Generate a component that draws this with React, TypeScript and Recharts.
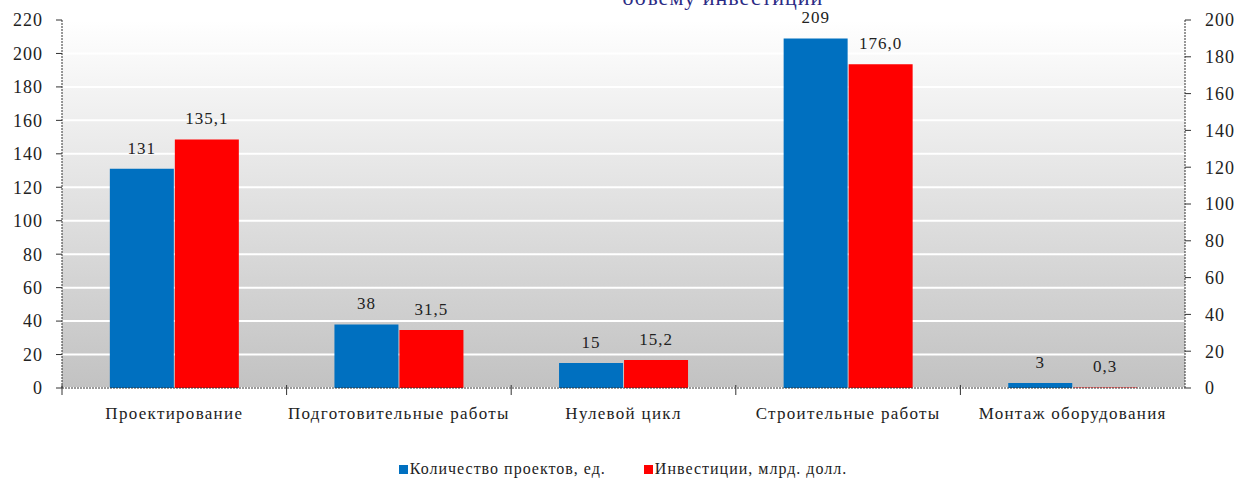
import React from 'react';
import { BarChart, Bar, XAxis, YAxis, CartesianGrid, Legend, LabelList } from 'recharts';

const categories = ['Проектирование', 'Подготовительные работы', 'Нулевой цикл', 'Строительные работы', 'Монтаж оборудования'];
const projects = [131, 38, 15, 209, 3];
const investments = [135.1, 31.5, 15.2, 176.0, 0.3];
const leftTicks = [0, 20, 40, 60, 80, 100, 120, 140, 160, 180, 200, 220];
const rightTicks = [0, 20, 40, 60, 80, 100, 120, 140, 160, 180, 200];
const seriesNames = ['Количество проектов, ед.', 'Инвестиции, млрд. долл.'];
const titleText = 'объему инвестиций';

const data = categories.map((c, i) => ({ name: c, projects: projects[i], investments: investments[i] }));

const W = 1246;
const H = 483;
const LEFT_W = 62;
const RIGHT_W = 61;
const BAND = (W - LEFT_W - RIGHT_W) / categories.length;
const FONT = '"Liberation Serif", "DejaVu Serif", serif';
const TEXT = '#222';

const CatTick = (props: any) => {
  const { x, y, payload } = props;
  return (
    <g>
      <line x1={x - BAND / 2} y1={y - 3} x2={x - BAND / 2} y2={y + 7} stroke="#333" strokeWidth={1} />
      <text x={x} y={y + 31} textAnchor="middle" fontFamily={FONT} fontSize={17} letterSpacing={1.3} fill={TEXT}>
        {payload.value}
      </text>
    </g>
  );
};

const LegendContent = () => (
  <div style={{ display: 'flex', justifyContent: 'center', fontFamily: FONT, fontSize: 16, letterSpacing: 1, color: TEXT, paddingTop: 3, paddingLeft: 0 }}>
    {seriesNames.map((n, i) => (
      <div key={n} style={{ display: 'flex', alignItems: 'center', marginRight: i === 0 ? 38 : 0 }}>
        <span style={{ display: 'inline-block', width: 9, height: 9, background: i === 0 ? '#0070C0' : '#FF0000', marginRight: 2 }} />
        <span>{n}</span>
      </div>
    ))}
  </div>
);

export default function App() {
  return (
    <div style={{ position: 'absolute', left: 0, top: 0, width: W, height: H, background: '#fff' }}>
      <BarChart
        width={W}
        height={H}
        data={data}
        margin={{ top: 20, right: 0, left: 0, bottom: 0 }}
        barCategoryGap="21.3%"
        barGap={1}
      >
        <defs>
          <linearGradient id="bg" x1="0" y1="0" x2="0" y2="1">
            <stop offset="0%" stopColor="#FFFFFF" />
            <stop offset="100%" stopColor="#C2C2C2" />
          </linearGradient>
        </defs>
        <text x={723} y={5} textAnchor="middle" fontFamily={FONT} fontSize={22} letterSpacing={1} fill="#2B2B85">
          {titleText}
        </text>
        <CartesianGrid vertical={false} fill="url(#bg)" stroke="#FFFFFF" strokeWidth={2} yAxisId="left" />
        <XAxis
          dataKey="name"
          tickLine={false}
          tickSize={0}
          tickMargin={0}
          height={69}
          interval={0}
          axisLine={{ stroke: '#333', strokeDasharray: '2 1' }}
          tick={<CatTick />}
        />
        <YAxis
          yAxisId="left"
          orientation="left"
          width={LEFT_W}
          domain={[0, 220]}
          ticks={leftTicks}
          interval={0}
          tickSize={6}
          tickMargin={13}
          axisLine={{ stroke: '#333', strokeDasharray: '2 1' }}
          tickLine={{ stroke: '#333' }}
          tick={{ fontFamily: FONT, fontSize: 18, letterSpacing: 1, fill: TEXT }}
        />
        <YAxis
          yAxisId="right"
          orientation="right"
          width={RIGHT_W}
          domain={[0, 200]}
          ticks={rightTicks}
          interval={0}
          tickSize={6}
          tickMargin={14}
          axisLine={{ stroke: '#333', strokeDasharray: '2 1' }}
          tickLine={{ stroke: '#333' }}
          tick={{ fontFamily: FONT, fontSize: 18, letterSpacing: 1, fill: TEXT }}
        />
        <Bar yAxisId="left" dataKey="projects" name={seriesNames[0]} fill="#0070C0" isAnimationActive={false}>
          <LabelList dataKey="projects" position="top" offset={15} fontFamily={FONT} fontSize={17} letterSpacing={1} fill={TEXT} />
        </Bar>
        <Bar yAxisId="right" dataKey="investments" name={seriesNames[1]} fill="#FF0000" isAnimationActive={false}>
          <LabelList
            dataKey="investments"
            position="top"
            offset={15}
            fontFamily={FONT}
            fontSize={17}
            letterSpacing={1}
            fill={TEXT}
            formatter={(v: any) => Number(v).toFixed(1).replace('.', ',')}
          />
        </Bar>
        <Legend verticalAlign="bottom" height={26} wrapperStyle={{ height: 26 }} content={<LegendContent />} />
      </BarChart>
    </div>
  );
}
